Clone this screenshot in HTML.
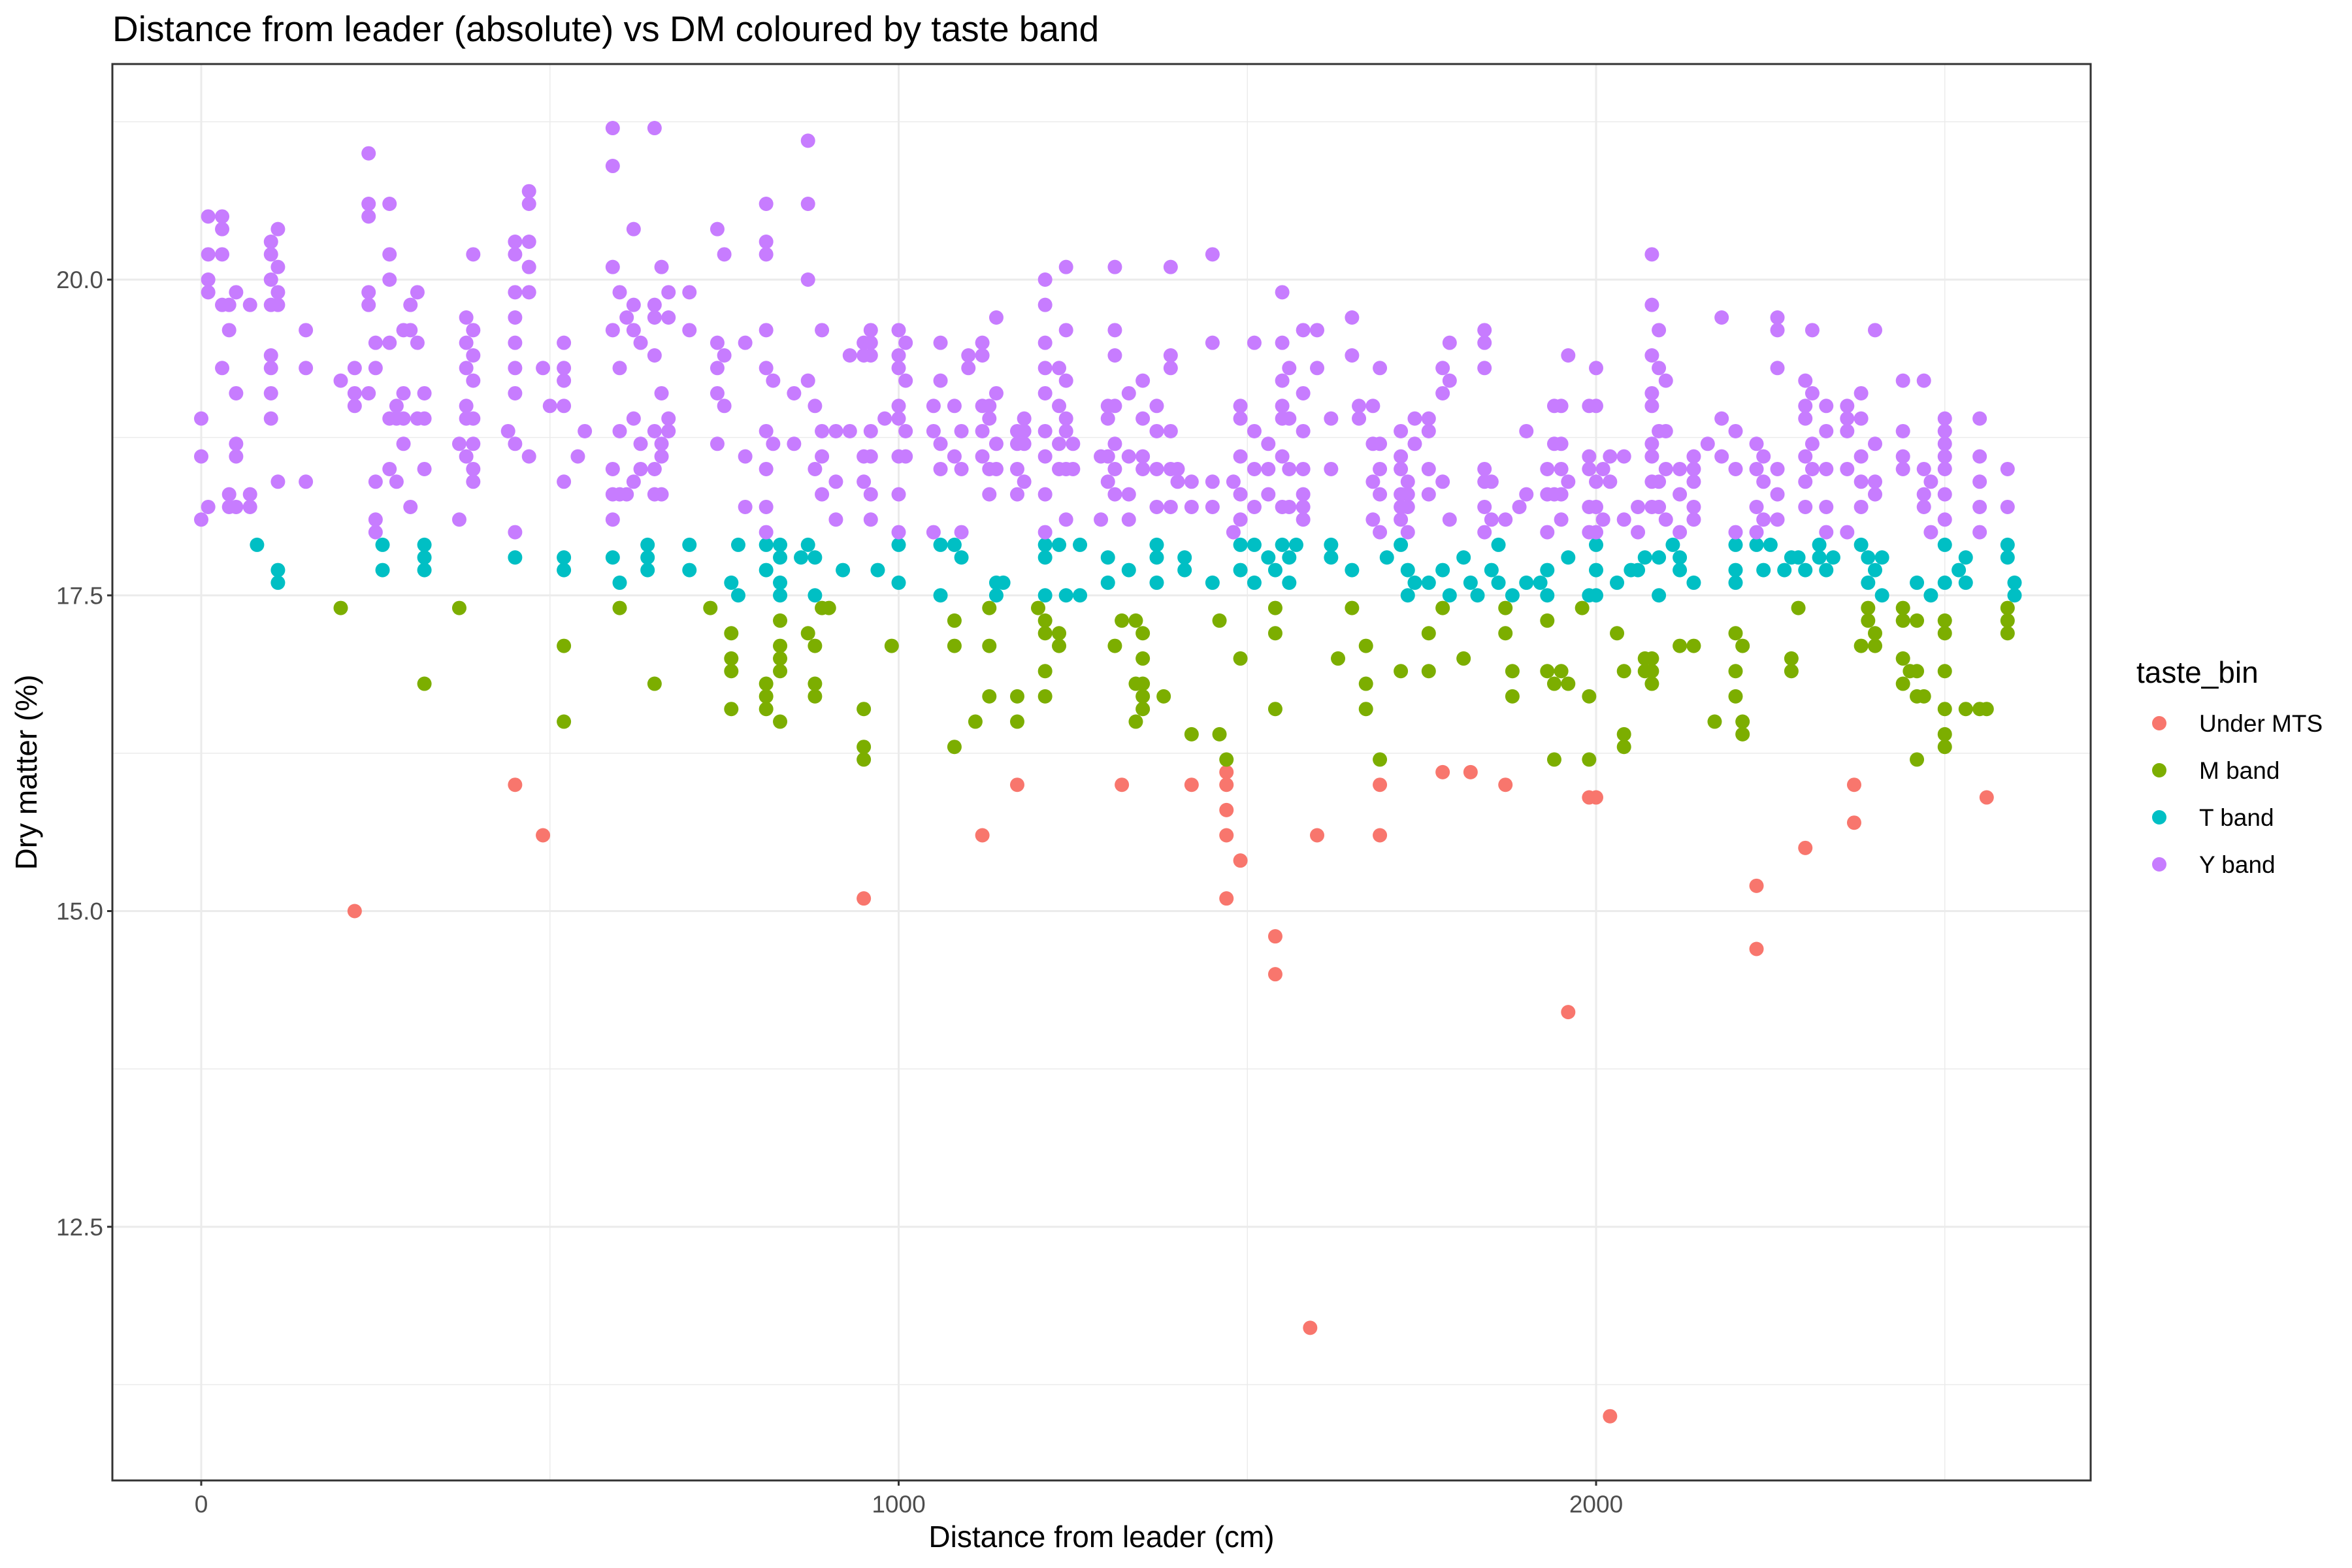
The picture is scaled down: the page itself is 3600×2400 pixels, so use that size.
<!DOCTYPE html>
<html><head><meta charset="utf-8"><style>
html,body{margin:0;padding:0;background:#fff;}
svg{display:block;font-family:"Liberation Sans",Arial,sans-serif;}
</style></head><body>
<svg id="chart" width="3600" height="2400" viewBox="0 0 3600 2400" xmlns="http://www.w3.org/2000/svg">
<rect x="0" y="0" width="3600" height="2400" fill="#fff"/>
<text x="172" y="63" font-size="55" fill="#000">Distance from leader (absolute) vs DM coloured by taste band</text>
<g id="grid"></g>
<g id="points"></g>
<rect x="172" y="98" width="3028" height="2168" fill="none" stroke="#333" stroke-width="3"/>
<g id="axes"></g>
<text x="1686" y="2368" font-size="46" text-anchor="middle" fill="#000">Distance from leader (cm)</text>
<text transform="translate(56,1182) rotate(-90)" font-size="46" text-anchor="middle" fill="#000">Dry matter (%)</text>
<g id="legend">
<text x="3270" y="1045" font-size="46" fill="#000">taste_bin</text>
</g>
</svg>
<script>
const xTicks=[0,1000,2000];
const xMinor=[500,1500,2500];
const yTicks=[12.5,15.0,17.5,20.0];
const yTickLabels=["12.5","15.0","17.5","20.0"];
const yMinor=[11.25,13.75,16.25,18.75,21.25];
const categories=["Under MTS","M band","T band","Y band"];
const colors=["#F8766D","#7CAE00","#00BFC4","#C77CFF"];

const underX=[220,450,490,950,1120,1170,1320,1420,1470,1470,1470,1470,1470,1490,1540,1540,1590,1600,1690,1690,1780,1820,1870,1960,1990,2000,2020,2230,2230,2300,2370,2370,2560];
const underY=[15.0,16.0,15.6,15.1,15.6,16.0,16.0,16.0,16.1,16.0,15.8,15.6,15.1,15.4,14.8,14.5,11.7,15.6,16.0,15.6,16.1,16.1,16.0,14.2,15.9,15.9,11.0,15.2,14.7,15.5,16.0,15.7,15.9];

const mX=[200,320,370,520,520,600,650,730,760,760,760,760,810,810,810,830,830,830,830,830,870,880,880,890,900,880,950,950,950,990,1080,1080,1080,1110,1130,1130,1130,1170,1170,1200,1210,1210,1210,1210,1230,1230,1310,1320,1340,1340,1340,1350,1350,1350,1350,1350,1380,1420,1460,1460,1470,1490,1540,1540,1540,1630,1650,1670,1670,1670,1690,1760,1760,1720,1780,1810,1870,1870,1880,1880,1930,1930,1950,1940,1960,1940,1980,1990,1990,2030,2040,2040,2040,2070,2070,2080,2080,2080,2120,2140,2170,2200,2200,2200,2210,2210,2210,2280,2280,2290,2380,2390,2390,2400,2400,2440,2440,2440,2440,2450,2460,2460,2460,2470,2460,2500,2500,2500,2500,2500,2500,2530,2550,2560,2590,2590,2590];
const mY=[17.4,16.8,17.4,17.1,16.5,17.4,16.8,17.4,17.2,17.0,16.9,16.6,16.8,16.7,16.6,17.3,17.1,17.0,16.9,16.5,17.2,16.7,16.8,17.4,17.4,17.1,16.6,16.3,16.2,17.1,17.3,17.1,16.3,16.5,17.4,17.1,16.7,16.7,16.5,17.4,17.3,17.2,16.9,16.7,17.2,17.1,17.1,17.3,17.3,16.8,16.5,17.2,17.0,16.8,16.7,16.6,16.7,16.4,17.3,16.4,16.2,17.0,17.4,17.2,16.6,17.0,17.4,17.1,16.8,16.6,16.2,17.2,16.9,16.9,17.4,17.0,17.4,17.2,16.9,16.7,17.3,16.9,16.9,16.8,16.8,16.2,17.4,16.7,16.2,17.2,16.9,16.4,16.3,17.0,16.9,17.0,16.8,16.9,17.1,17.1,16.5,17.2,16.9,16.7,17.1,16.5,16.4,17.0,16.9,17.4,17.1,17.4,17.3,17.2,17.1,17.4,17.3,17.0,16.8,16.9,17.3,16.9,16.7,16.7,16.2,17.3,17.2,16.9,16.6,16.4,16.3,16.6,16.6,16.6,17.4,17.3,17.2];

const tX=[80,110,110,260,260,320,320,320,450,520,520,590,600,640,640,640,700,700,760,770,770,810,810,830,830,830,830,860,870,880,880,920,970,1000,1000,1060,1060,1080,1090,1140,1140,1150,1210,1210,1210,1230,1240,1260,1260,1300,1300,1330,1370,1370,1370,1410,1410,1450,1490,1490,1510,1510,1530,1540,1550,1560,1560,1570,1620,1620,1650,1700,1720,1730,1730,1740,1760,1780,1790,1810,1820,1830,1850,1860,1860,1880,1900,1920,1930,1930,1960,1990,2000,2000,2000,2030,2050,2060,2070,2090,2090,2110,2120,2120,2140,2200,2200,2200,2230,2240,2250,2270,2280,2290,2300,2320,2320,2330,2340,2380,2390,2390,2400,2410,2410,2460,2480,2500,2500,2520,2530,2530,2590,2590,2600,2600];
const tY=[17.9,17.7,17.6,17.9,17.7,17.9,17.8,17.7,17.8,17.8,17.7,17.8,17.6,17.9,17.8,17.7,17.9,17.7,17.6,17.9,17.5,17.9,17.7,17.9,17.8,17.6,17.5,17.8,17.9,17.8,17.5,17.7,17.7,17.9,17.6,17.9,17.5,17.9,17.8,17.5,17.6,17.6,17.9,17.8,17.5,17.9,17.5,17.5,17.9,17.8,17.6,17.7,17.9,17.8,17.6,17.8,17.7,17.6,17.9,17.7,17.9,17.6,17.8,17.7,17.9,17.8,17.6,17.9,17.9,17.8,17.7,17.8,17.9,17.7,17.5,17.6,17.6,17.7,17.5,17.8,17.6,17.5,17.7,17.9,17.6,17.5,17.6,17.6,17.7,17.5,17.8,17.5,17.9,17.7,17.5,17.6,17.7,17.7,17.8,17.5,17.8,17.9,17.8,17.7,17.6,17.9,17.7,17.6,17.9,17.7,17.9,17.7,17.8,17.8,17.7,17.9,17.8,17.7,17.8,17.9,17.8,17.6,17.7,17.8,17.5,17.6,17.5,17.9,17.6,17.7,17.8,17.6,17.9,17.8,17.6,17.5];

const yBandX=[0,10,30,40,50,70,100,110,150,200,220,240,250,270,280,290,300,310,320,370,380,390,440,450,470,490,500,520,540,550,590,600,610,620,630,650,660,670,700,740,750,780,810,820,850,870,880,890,910,930,950,960,980,1000,1010,1050,1060,1080,1090,1100,1120,1130,1140,1170,1180,1210,1230,1240,1250,1290,1300,1310,1330,1350,1370,1390,1400,1420,1450,1480,1490,1510,1530,1550,1560,1580,1600,1620,1650,1660,1680,1690,1720,1730,1740,1760,1780,1790,1840,1850,1870,1890,1900,1930,1940,1950,1960,1990,2000,2010,2020,2040,2060,2080,2090,2100,2120,2140,2160,2180,2200,2230,2240,2260,2300,2310,2330,2360,2380,2400,2440,2470,2480,2500,2550,2590];
const yBandY=[[18.9,18.6,18.1],[20.5,20.2,20.0,19.9,18.2],[20.5,20.4,20.2,19.8,19.3],[19.8,19.6,18.3,18.2],[19.9,19.1,18.7,18.6,18.2],[19.8,18.3,18.2],[20.3,20.2,20.0,19.8,19.4,19.3,19.1,18.9],[20.4,20.1,19.9,19.8,18.4],[19.6,19.3,18.4],[19.2],[19.3,19.1,19.0],[21.0,20.6,20.5,19.9,19.8,19.1],[19.5,19.3,18.4,18.1,18.0],[20.6,20.2,20.0,19.5,18.9,18.5],[19.0,18.9,18.4],[19.6,19.1,18.9,18.7],[19.8,19.6,18.2],[19.9,19.5,18.9],[19.1,18.9,18.5],[18.7,18.1],[19.7,19.5,19.3,19.0,18.9,18.6],[20.2,19.6,19.4,19.2,18.9,18.7,18.5,18.4],[18.8],[20.3,20.2,19.9,19.7,19.5,19.3,19.1,18.7,18.0],[20.7,20.6,20.3,20.1,19.9,18.6],[19.3],[19.0],[19.5,19.3,19.2,19.0,18.4],[18.6],[18.8],[21.2,20.9,20.1,19.6,18.5,18.3,18.1],[19.9,19.3,18.8,18.3],[19.7,18.3],[20.4,19.8,19.6,18.9,18.4],[19.5,18.7,18.5],[21.2,19.8,19.7,19.4,18.8,18.5,18.3],[20.1,19.1,18.7,18.6,18.3],[19.9,19.7,18.9,18.8],[19.9,19.6],[20.4,19.5,19.3,19.1,18.7],[20.2,19.4,19.0],[19.5,18.6,18.2],[20.6,20.3,20.2,19.6,19.3,18.8,18.5,18.2,18.0],[19.2,18.7],[18.7,19.1],[21.1,20.6,20.0,19.2],[19.0,18.5],[19.6,18.8,18.6,18.3],[18.8,18.4,18.1],[19.4,18.8],[19.5,19.4,18.6,18.4],[19.6,19.5,19.4,18.8,18.6,18.3,18.1],[18.9],[19.6,19.4,19.3,19.0,18.9,18.6,18.3,18.0],[19.5,19.2,18.8,18.6],[19.0,18.8,18.0],[19.5,19.2,18.7,18.5],[19.0,18.6],[18.8,18.5,18.0],[19.4,19.3],[19.5,19.4,19.0,18.6,18.8],[19.0,18.9,18.5,18.3],[19.7,19.1,18.7,18.5],[18.8,18.7,18.5,18.3],[18.9,18.8,18.7,18.4],[20.0,19.8,19.5,19.3,19.1,18.8,18.6,18.3,18.0],[19.3,19.0,18.7,18.5],[20.1,19.6,19.2,18.9,18.8,18.5,18.1],[18.7,18.5],[18.6,18.1],[19.0,18.9,18.6,18.4],[20.1,19.6,19.4,19.0,18.7,18.5,18.3],[19.1,18.6,18.3,18.1],[19.2,18.9,18.6,18.5],[19.0,18.8,18.5,18.2],[20.1,19.4,19.3,18.8,18.5,18.2],[18.5,18.4],[18.4,18.2],[20.2,19.5,18.4,18.2],[18.4,18.0],[19.0,18.9,18.6,18.3,18.1],[19.5,18.8,18.5,18.2],[18.7,18.5,18.3],[19.9,19.5,19.2,19.0,18.9,18.6,18.2],[19.3,18.9,18.5,18.2],[19.6,19.1,18.8,18.5,18.3,18.2,18.1],[19.6,19.3],[18.9,18.5],[19.7,19.4],[19.0,18.9],[19.0,18.7,18.4,18.1],[19.3,18.7,18.5,18.3,18.0],[18.8,18.6,18.5,18.3,18.2,18.1],[18.4,18.3,18.2,18.0],[18.9,18.7],[18.9,18.8,18.5,18.3],[19.3,19.1,18.4],[19.5,19.2,18.1],[19.6,19.5,19.3,18.5,18.4,18.2,18.0],[18.4,18.1],[18.1],[18.2],[18.8,18.3],[18.5,18.3,18.0],[19.0,18.7,18.3],[19.0,18.7,18.5,18.3,18.1],[19.4,18.4],[19.0,18.6,18.5,18.2,18.0],[19.3,19.0,18.4,18.2,18.0],[18.5,18.1],[18.6,18.4],[18.6,18.1],[18.2,18.0],[20.2,19.8,19.4,19.1,19.0,18.7,18.6,18.4,18.2],[19.6,19.3,18.8,18.4,18.2],[19.2,18.8,18.5,18.1],[18.5,18.3,18.0],[18.6,18.5,18.4,18.2,18.1],[18.7],[19.7,18.9,18.6],[18.8,18.5,18.0],[18.7,18.5,18.2,18.0],[18.6,18.4,18.1],[19.7,19.6,19.3,18.5,18.3,18.1],[19.2,19.0,18.9,18.6,18.4,18.2],[19.6,19.1,18.7,18.5],[19.0,18.8,18.5,18.2,18.0],[19.0,18.9,18.8,18.5,18.0],[19.1,18.9,18.6,18.4,18.2],[19.6,18.7,18.4,18.3],[19.2,18.8,18.6,18.5],[19.2,18.5,18.3,18.2],[18.4,18.0],[18.9,18.8,18.7,18.6,18.5,18.3,18.1],[18.9,18.6,18.4,18.2,18.0],[18.5,18.2]];

const NS="http://www.w3.org/2000/svg";
const PL=172,PR=3200,PT=98,PB=2266;
function sx(v){return 308+v*1.0675;}
function sy(v){return 428+(20-v)*193.3;}
function mk(tag,attrs,parent){const e=document.createElementNS(NS,tag);for(const k in attrs)e.setAttribute(k,attrs[k]);parent.appendChild(e);return e;}

const grid=document.getElementById('grid');
mk('rect',{x:PL,y:PT,width:PR-PL,height:PB-PT,fill:'#fff'},grid);
xMinor.forEach(v=>{const l=mk('line',{x1:sx(v),x2:sx(v),y1:PT,y2:PB,stroke:'#EBEBEB','stroke-width':1.5},grid);

});
yMinor.forEach(v=>{const l=mk('line',{x1:PL,x2:PR,y1:sy(v),y2:sy(v),stroke:'#EBEBEB','stroke-width':1.5},grid);

});
xTicks.forEach(v=>{const l=mk('line',{x1:sx(v),x2:sx(v),y1:PT,y2:PB,stroke:'#EBEBEB','stroke-width':3},grid);

});
yTicks.forEach(v=>{const l=mk('line',{x1:PL,x2:PR,y1:sy(v),y2:sy(v),stroke:'#EBEBEB','stroke-width':3},grid);

});

const pts=document.getElementById('points');
function plot(xs,ys,ci,name){for(let i=0;i<xs.length;i++){const c=mk('circle',{cx:sx(xs[i]),cy:sy(ys[i]),r:11,fill:colors[ci]},pts);

}}
plot(underX,underY,0,'point-under-mts');
plot(mX,mY,1,'point-m-band');
plot(tX,tY,2,'point-t-band');
yBandX.forEach((xv,i)=>{yBandY[i].forEach(yv=>{const c=mk('circle',{cx:sx(xv),cy:sy(yv),r:11,fill:colors[3]},pts);

});});

const axes=document.getElementById('axes');
xTicks.forEach(v=>{mk('line',{x1:sx(v),x2:sx(v),y1:PB,y2:PB+8,stroke:'#333','stroke-width':3},axes);
const t=mk('text',{x:sx(v),y:2315,'font-size':37,'text-anchor':'middle',fill:'#4D4D4D'},axes);t.textContent=v;

});
yTicks.forEach((v,i)=>{mk('line',{x1:PL-8,x2:PL,y1:sy(v),y2:sy(v),stroke:'#333','stroke-width':3},axes);
const t=mk('text',{x:PL-14,y:sy(v)+13,'font-size':37,'text-anchor':'end',fill:'#4D4D4D'},axes);t.textContent=yTickLabels[i];

});

const leg=document.getElementById('legend');
categories.forEach((c,i)=>{const y=1107+i*72;
const d=mk('circle',{cx:3305,cy:y,r:11,fill:colors[i]},leg);


const t=mk('text',{x:3366,y:y+13,'font-size':37,fill:'#000'},leg);t.textContent=c;

});
</script>
</body></html>
